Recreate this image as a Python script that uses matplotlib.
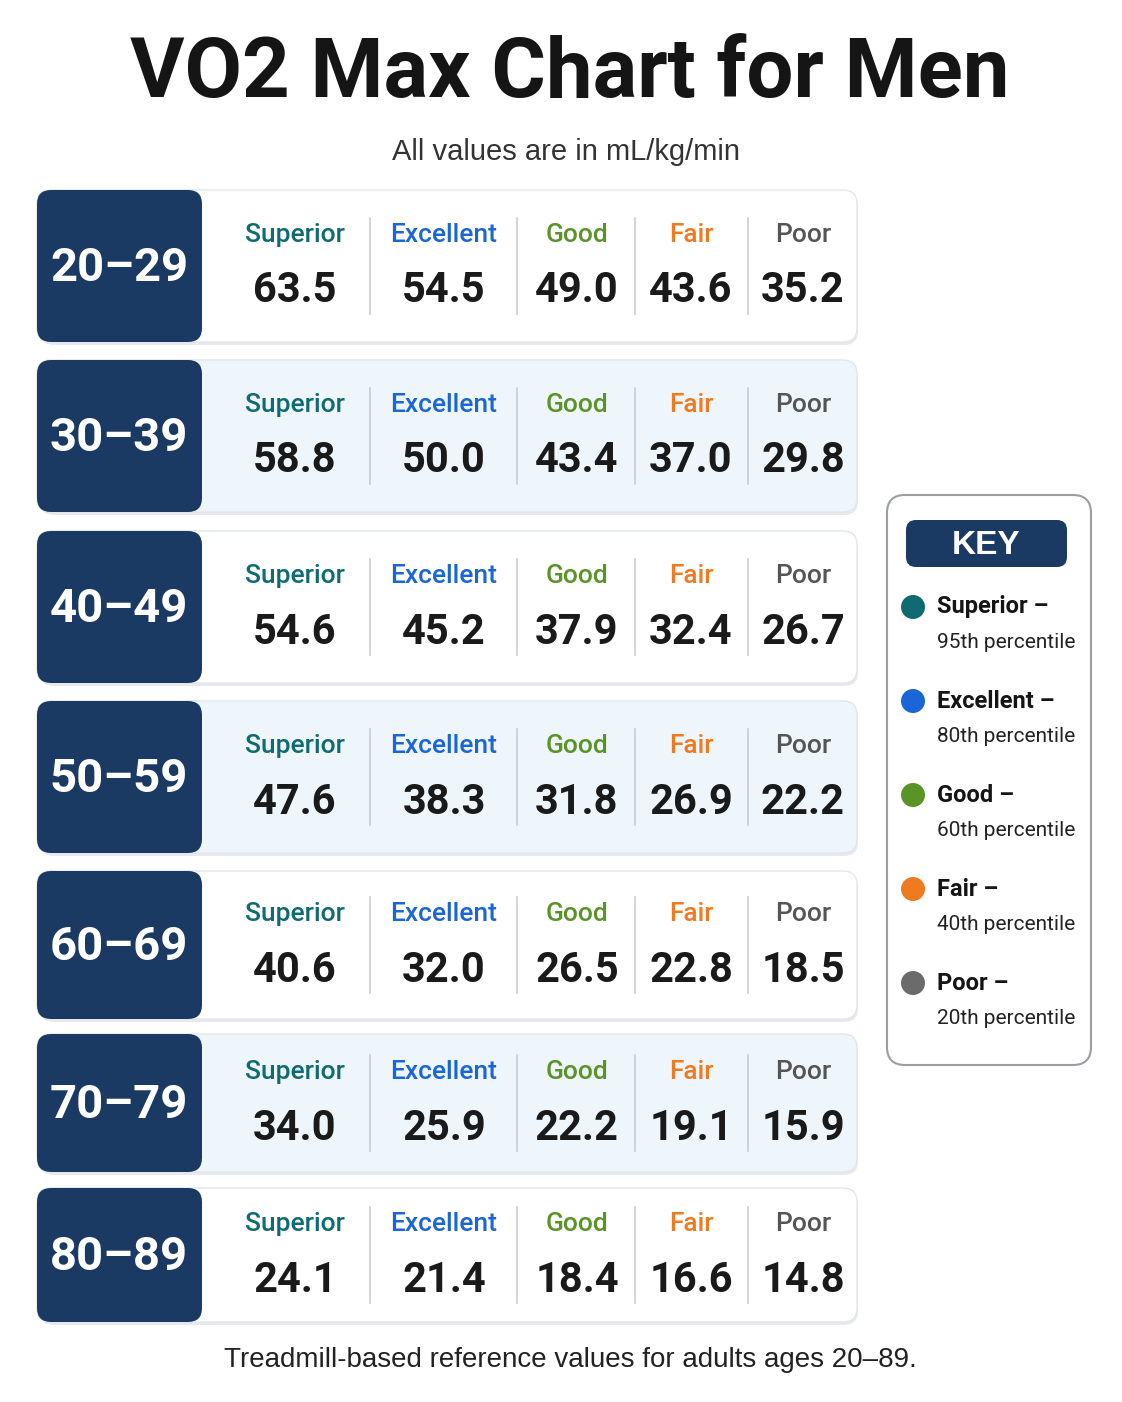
import matplotlib
matplotlib.use("Agg")
import matplotlib.pyplot as plt
from matplotlib.patches import FancyBboxPatch, Circle

ages = ["20–29", "30–39", "40–49", "50–59", "60–69", "70–79", "80–89"]
categories = ["Superior", "Excellent", "Good", "Fair", "Poor"]
values = [
    [63.5, 54.5, 49.0, 43.6, 35.2],
    [58.8, 50.0, 43.4, 37.0, 29.8],
    [54.6, 45.2, 37.9, 32.4, 26.7],
    [47.6, 38.3, 31.8, 26.9, 22.2],
    [40.6, 32.0, 26.5, 22.8, 18.5],
    [34.0, 25.9, 22.2, 19.1, 15.9],
    [24.1, 21.4, 18.4, 16.6, 14.8],
]
percentiles = ["95th", "80th", "60th", "40th", "20th"]
cat_colors = ["#0f6b72", "#1a66d6", "#5a9427", "#f07a20", "#555555"]
dot_colors = ["#0f6b72", "#1a66d6", "#5a9427", "#f07a20", "#6b6b6b"]
navy = "#1b3a63"

narrow = ["Roboto", "DejaVu Sans"]
plain = ["Liberation Sans", "DejaVu Sans"]

W, H = 1122, 1402
fig = plt.figure(figsize=(W / 100, H / 100), dpi=100)
ax = fig.add_axes([0, 0, 1, 1])
ax.set_xlim(0, W)
ax.set_ylim(H, 0)
ax.axis("off")

ax.text(570, 75, "VO2 Max Chart for Men", ha="center", va="center", fontsize=60,
        fontweight="bold", family=narrow, color="#151515")
ax.text(566, 152, "All values are in mL/kg/min", ha="center", va="center", fontsize=21,
        family=plain, color="#333333")

centers = [266, 436, 607, 777, 945, 1103, 1255]
heights = [152, 152, 152, 152, 148, 138, 134]
col_x = [295, 444, 577, 691, 803]
div_x = [370, 517, 635, 748]

for i, age in enumerate(ages):
    cy, h = centers[i], heights[i]
    bg = "white" if i % 2 == 0 else "#eef5fb"
    # shadow + card
    ax.add_patch(FancyBboxPatch((40, cy - h / 2 + 3), 818, h, boxstyle="round,pad=0,rounding_size=14",
                                fc="#e6e9ee", ec="none", zorder=1))
    ax.add_patch(FancyBboxPatch((37, cy - h / 2), 820, h, boxstyle="round,pad=0,rounding_size=14",
                                fc=bg, ec="#e3e7ec", lw=1, zorder=2))
    ax.add_patch(FancyBboxPatch((37, cy - h / 2), 165, h, boxstyle="round,pad=0,rounding_size=14",
                                fc=navy, ec="none", zorder=3))
    ax.text(119, cy + 2, age, ha="center", va="center", fontsize=34, fontweight="bold",
            family=narrow, color="white", zorder=4)
    for dx in div_x:
        ax.plot([dx, dx], [cy - 48, cy + 48], color="#c9cdd2", lw=1.2, zorder=4)
    for j, cat in enumerate(categories):
        ax.text(col_x[j], cy - 31, cat, ha="center", va="center", fontsize=19,
                fontweight="medium", family=narrow, color=cat_colors[j], zorder=4)
        ax.text(col_x[j], cy + 25, f"{values[i][j]:.1f}", ha="center", va="center", fontsize=30,
                fontweight="bold", family=narrow, color="#1a1a1a", zorder=4)

# key
ax.add_patch(FancyBboxPatch((887, 495), 204, 570, boxstyle="round,pad=0,rounding_size=18",
                            fc="white", ec="#9a9ea3", lw=1.5, zorder=2))
ax.add_patch(FancyBboxPatch((906, 520), 161, 47, boxstyle="round,pad=0,rounding_size=10",
                            fc=navy, ec="none", zorder=3))
ax.text(986, 545, "KEY", ha="center", va="center", fontsize=24, fontweight="bold",
        family=plain, color="white", zorder=4)
for j, cat in enumerate(categories):
    y = 607 + 94 * j
    ax.add_patch(Circle((913, y), 12, fc=dot_colors[j], ec="none", zorder=4))
    ax.text(937, y, f"{cat} –", ha="left", va="center", fontsize=17, fontweight="bold",
            family=narrow, color="#151515", zorder=4)
    ax.text(937, y + 35, f"{percentiles[j]} percentile", ha="left", va="center", fontsize=15,
            family=narrow, color="#222222", zorder=4)

ax.text(570, 1360, "Treadmill-based reference values for adults ages 20–89.", ha="center",
        va="center", fontsize=20, family=plain, color="#222222")

fig.savefig("out.png", dpi=100, facecolor="white")
